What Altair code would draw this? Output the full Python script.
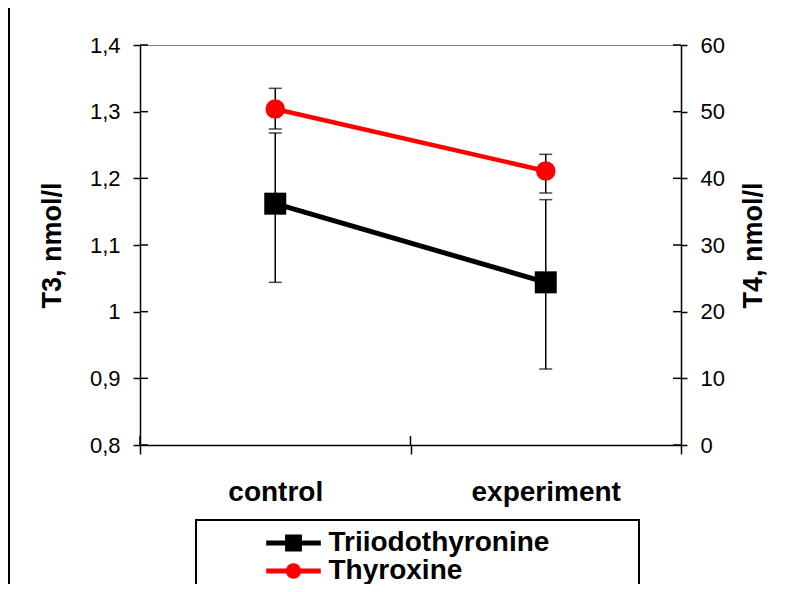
import altair as alt
import pandas as pd

# ---------------- data ----------------
categories = ["control", "experiment"]
t3_mean = [1.162, 1.044]
t3_low = [1.044, 0.914]
t3_high = [1.268, 1.168]
t4_mean = [50.4, 41.1]
t4_low = [47.4, 37.8]
t4_high = [53.5, 43.6]
series_names = ["Triiodothyronine", "Thyroxine"]
series_colors = ["#000000", "#ff0000"]
t3_ticks = [0.8, 0.9, 1.0, 1.1, 1.2, 1.3, 1.4]
t4_ticks = [0, 10, 20, 30, 40, 50, 60]

t3 = pd.DataFrame({"cat": categories, "mean": t3_mean, "lo": t3_low, "hi": t3_high})
t4 = pd.DataFrame({"cat": categories, "mean": t4_mean, "lo": t4_low, "hi": t4_high})
t3_tick_df = pd.DataFrame({"v": t3_ticks})
t4_tick_df = pd.DataFrame({"v": t4_ticks})
cat_df = pd.DataFrame({"cat": categories})
legend_df = pd.DataFrame({"series": series_names})

FONT = "Liberation Sans"
W, H = 541, 400

xscale = alt.Scale(domain=categories, paddingInner=0, paddingOuter=0)
x_axis = alt.Axis(
    title=None, labelAngle=0, tickBand="extent", tickSize=9,
    labelFontSize=28, labelFontWeight="bold", labelPadding=24,
    labelBaseline="top",
)
xenc = alt.X("cat:N", scale=xscale, axis=x_axis)


def series_layer(df, tick_df, color, shape, size, width, yscale, yaxis, inner_x, inner_x2):
    base = alt.Chart(df).encode(x=xenc)
    rule = base.mark_rule(color="black", strokeWidth=1.5).encode(
        y=alt.Y("lo:Q", scale=yscale, axis=yaxis), y2="hi:Q")
    tlo = base.mark_tick(color="black", size=13, thickness=1.5).encode(
        y=alt.Y("lo:Q", scale=yscale, axis=yaxis))
    thi = base.mark_tick(color="black", size=13, thickness=1.5).encode(
        y=alt.Y("hi:Q", scale=yscale, axis=yaxis))
    line = base.mark_line(color=color, strokeWidth=width).encode(
        y=alt.Y("mean:Q", scale=yscale, axis=yaxis))
    pts = base.mark_point(filled=True, shape=shape, size=size, color=color,
                          opacity=1).encode(
        y=alt.Y("mean:Q", scale=yscale, axis=yaxis))
    # inner half of the axis ticks (the ticks cross the axis line)
    inner = alt.Chart(tick_df).mark_rule(color="black", strokeWidth=1.5).encode(
        y=alt.Y("v:Q", scale=yscale, axis=yaxis),
        x=alt.value(inner_x), x2=alt.value(inner_x2))
    return alt.layer(inner, rule, tlo, thi, line, pts)


y3_scale = alt.Scale(domain=[0.8, 1.4], nice=False, zero=False)
y3_axis = alt.Axis(
    orient="left", values=t3_ticks, title="T3, nmol/l",
    labelExpr="replace(format(datum.value, '.1~f'), '.', ',')",
    tickSize=7, labelPadding=13, labelFontSize=22,
    titleFontSize=27, titleFontWeight="bold",
    titleX=-88, titleY=H / 2, titleAngle=270, titleAlign="center",
    titleBaseline="middle",
)
y4_scale = alt.Scale(domain=[0, 60], nice=False)
y4_axis = alt.Axis(
    orient="right", values=t4_ticks, title="T4, nmol/l",
    tickSize=6, labelPadding=13, labelFontSize=22,
    titleFontSize=27, titleFontWeight="bold",
    titleX=72, titleY=H / 2, titleAngle=270, titleAlign="center",
    titleBaseline="middle",
)

t3_layer = series_layer(t3, t3_tick_df, series_colors[0], "square", 484, 5,
                        y3_scale, y3_axis, 0, 8)
t4_layer = series_layer(t4, t4_tick_df, series_colors[1], "circle", 380, 4.5,
                        y4_scale, y4_axis, W - 8, W)

x_inner = alt.Chart(cat_df).mark_rule(color="black", strokeWidth=1.5).encode(
    x=alt.X("cat:N", scale=xscale, axis=x_axis, bandPosition=0),
    y=alt.value(H - 9), y2=alt.value(H))

path_t3 = "M-3.9,-0.36H-1.2V-1.2H1.2V-0.36H3.9V0.36H1.2V1.2H-1.2V0.36H-3.9Z"
path_t4 = ("M-3.9,-0.36H3.9V0.36H-3.9Z "
           "M1.1,0A1.1,1.1,0,1,1,-1.1,0A1.1,1.1,0,1,1,1.1,0Z")

leg = alt.Legend(
    title=None, orient="none", legendX=139.5, legendY=484,
    labelFont=FONT, labelFontSize=28, labelFontWeight="bold", labelColor="black",
    labelOffset=21, labelLimit=500, padding=0, rowPadding=0, symbolSize=196,
    symbolStrokeWidth=0, symbolOpacity=1,
)
legend_layer = alt.Chart(legend_df).transform_filter("false").mark_point(
    filled=True, opacity=1, size=196).encode(
    color=alt.Color("series:N", scale=alt.Scale(domain=series_names, range=series_colors), legend=leg),
    shape=alt.Shape("series:N", scale=alt.Scale(domain=series_names, range=[path_t3, path_t4]), legend=leg),
)

one = alt.Data(values=[{"k": 1}])
# outer chart frame: left edge only (diagnostic)
frame_left = alt.Chart(one).mark_rect(color="black", strokeWidth=0).encode(
    x=alt.value(-132), x2=alt.value(-130), y=alt.value(-37), y2=alt.value(539))
legend_box = alt.Chart(one).mark_rect(fill="white", fillOpacity=0, stroke="black", strokeWidth=2).encode(
    x=alt.value(56), x2=alt.value(499), y=alt.value(475), y2=alt.value(545))

chart = alt.layer(frame_left, legend_box, x_inner, t3_layer, t4_layer,
                  legend_layer).resolve_scale(
    y="independent"
).properties(
    width=W, height=H,
    autosize=alt.AutoSizeParams(type="none"),
    padding={"left": 132, "top": 37, "right": 101, "bottom": 139},
).configure_view(
    stroke="#808080", strokeWidth=1
).configure_axis(
    domainColor="black", domainWidth=1.5, tickColor="black", tickWidth=1.5,
    labelColor="black", titleColor="black", labelFont=FONT, titleFont=FONT,
    grid=False,
)

chart.save("out.html", embed_options={"renderer": "svg", "actions": False})
